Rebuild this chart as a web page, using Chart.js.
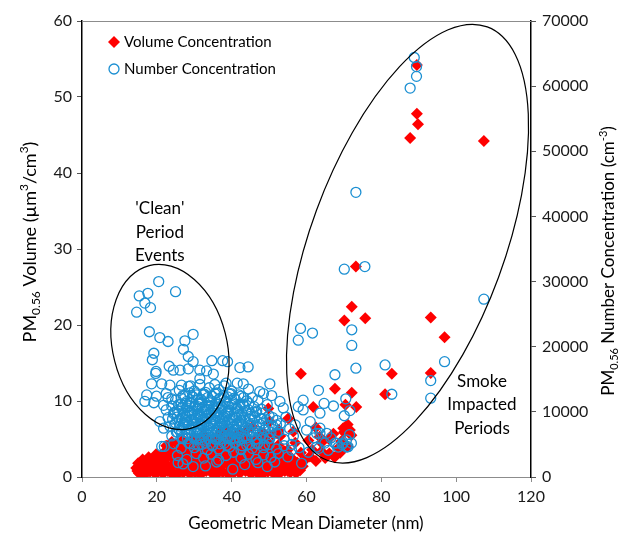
<!DOCTYPE html>
<html>
<head>
<meta charset="utf-8">
<script src="https://cdn.jsdelivr.net/npm/chart.js@4/dist/chart.umd.min.js"></script>
<style>
  body { margin: 0; background: #fff; }
  #wrap { width: 618px; height: 533px; }
</style>
</head>
<body>
<div id="wrap"><canvas id="chart" width="618" height="533"></canvas></div>
<script>
// PM0.56 volume (left axis) vs geometric mean diameter
var volDiam = [
    89.5, 89.5, 89.8, 87.7, 107.4, 73.2, 72.1, 70.1, 75.7, 93.2, 96.9, 93.2, 82.8, 81.0,
    58.5, 67.6, 72.1, 70.4, 73.3, 61.8, 69.8, 71.6, 67.2, 66.1, 60.9, 69.3, 71, 64, 62.5,
    65, 68.5, 72, 59, 56, 58.3, 49.8, 55.1, 52.6, 50.2, 51, 56.5, 45.5, 42, 38.5, 47,
    14.5, 15, 16, 16.5, 17.5, 18, 19, 19.5, 20.5, 21, 22, 22.5, 23.5, 23.5, 24.5, 25,
    25.5, 26, 27, 27, 27.5, 28, 28.5, 29, 29.5, 30, 30.5, 31, 31.5, 32, 32.5, 33, 33,
    33.5, 34, 34.5, 35, 35, 35.5, 36, 36.5, 37, 37.5, 38, 38, 38.5, 39, 39.5, 40, 40,
    40.5, 41, 41.5, 42, 42, 42.5, 43, 43.5, 44, 44.5, 45, 45, 45.5, 46, 46.5, 47, 47.5,
    48, 48.5, 49, 49.5, 50, 50.5, 51, 51.5, 52, 52.5, 53, 53.5, 54, 55, 55, 56, 57,
    57.5, 58.5, 59.5, 60.5, 61.5, 62.5, 63.5, 64, 66, 67.5, 69, 70, 71,
    15.2, 16.8, 18.2, 19.8, 21.3, 22.8, 24.2, 25.8, 27.3, 28.8, 30.2, 31.7, 33.2, 34.7,
    36.2, 37.7, 39.2, 40.7, 42.2, 43.7, 45.2, 46.7, 48.2, 49.7, 51.2, 52.7, 54.2, 55.7, 57.2,
    15.8, 17.2, 18.7, 20.2, 21.7, 23.2, 24.7, 26.2, 27.7, 29.2, 30.7, 32.2, 33.7, 35.2,
    36.7, 38.2, 39.7, 41.2, 42.7, 44.2, 45.7, 47.2, 48.7, 50.2, 51.7, 53.2, 54.7, 56.2,
    19.2, 20.7, 22.2, 23.7, 25.2, 26.7, 28.2, 29.7, 31.2, 32.7, 34.2, 35.7, 37.2, 38.7,
    40.2, 41.7, 43.2, 44.7, 46.2, 47.7, 49.2, 50.7, 52.2, 53.7, 55.2,
    24.2, 26.2, 28.2, 29.7, 31.2, 32.7, 34.2, 35.7, 37.2, 38.7, 40.2, 41.7, 43.2, 44.7,
    46.2, 47.7, 49.2, 50.7, 52.2, 54,
    29.2, 32.2, 35.2, 38.2, 41.2, 44.2, 47.2, 50,
    14.8, 16.2, 17.8, 19.8, 21.8, 18.9, 23,
    22.5, 24, 25.5, 27, 28.5, 30, 31.5, 33, 34.5, 36, 37.5, 39, 40.5, 42, 43.5, 45,
    46.5, 48, 49.5,
    32.5, 37, 41.5, 44, 48.5, 53
];
var volConc = [
    54.2, 47.8, 46.4, 44.6, 44.2, 27.7, 22.4, 20.6, 20.9, 21.0, 18.4, 13.7, 13.6, 10.9,
    13.6, 11.6, 11.1, 9.5, 9.2, 9.2, 6.4, 6.2, 5.7, 3.1, 2.7, 4.7, 4.0, 4.5, 6.5,
    2.5, 3.8, 5.5, 1.4, 1.4, 0.9, 9.0, 7.7, 6.2, 7.3, 5.6, 6.0, 6.6, 5.8, 6.2, 5.2,
    1.2, 1.8, 0.8, 1.5, 1.1, 2.0, 0.7, 1.6, 1.1, 2.2, 0.6, 1.7, 2.8, 1.0, 0.5, 2.1,
    3.3, 1.3, 0.6, 2.5, 4.4, 1.6, 3.3, 0.9, 2.2, 4.0, 1.3, 2.9, 0.6, 3.7, 1.9, 4.6, 0.9,
    2.6, 1.5, 3.5, 0.6, 5.0, 2.3, 4.1, 1.2, 3.0, 0.7, 1.9, 4.7, 3.6, 2.6, 0.9, 1.6, 5.3,
    3.2, 4.3, 2.2, 0.6, 1.3, 3.8, 2.8, 4.9, 1.7, 0.8, 3.3, 2.3, 4.4, 1.4, 3.0, 0.7, 2.1,
    3.9, 1.2, 2.7, 4.6, 1.8, 0.8, 3.4, 2.3, 1.4, 4.2, 0.9, 2.9, 1.8, 3.6, 0.8, 2.5, 4.5,
    1.9, 3.2, 2.2, 4.8, 3.6, 2.1, 5.3, 3.4, 5.0, 2.6, 3.2, 5.9, 6.9,
    0.5, 0.3, 0.7, 0.4, 0.6, 0.8, 0.3, 0.5, 0.7, 0.4, 0.6, 0.3, 0.8, 0.5,
    0.4, 0.7, 0.3, 0.6, 0.5, 0.8, 0.4, 0.6, 0.3, 0.7, 0.5, 0.4, 0.8, 0.6, 0.5,
    1.4, 1.7, 1.3, 1.8, 1.5, 1.2, 1.9, 1.4, 1.6, 1.3, 1.8, 1.5, 1.2, 1.7,
    1.4, 1.9, 1.3, 1.6, 1.5, 1.8, 1.2, 1.6, 1.4, 1.9, 1.3, 1.7, 1.5, 1.2,
    2.3, 2.6, 2.4, 2.9, 2.5, 2.8, 2.3, 2.7, 2.5, 2.9, 2.4, 2.6, 2.8, 2.3,
    2.7, 2.5, 2.9, 2.4, 2.6, 2.8, 2.3, 2.7, 2.5, 2.4, 2.6,
    3.4, 3.7, 3.5, 3.9, 3.3, 3.6, 3.8, 3.4, 3.7, 3.5, 3.9, 3.3, 3.6, 3.8,
    3.4, 3.5, 3.7, 3.3, 3.6, 3.4,
    4.5, 4.3, 4.8, 4.4, 4.6, 4.2, 4.7, 4.4,
    0.8, 2.3, 2.6, 3.0, 3.2, 1.0, 3.6,
    4.1, 4.6, 4.3, 4.9, 4.4, 5.1, 4.5, 4.8, 4.2, 5.0, 4.6, 4.3, 4.9, 4.5, 5.2, 4.7,
    4.4, 4.9, 4.6,
    5.6, 5.9, 5.7, 6.2, 5.8, 5.4
];

// PM0.56 number concentration (right axis) vs geometric mean diameter
var numDiam = [
    // smoke impacted
    88.8, 89.4, 89.4, 87.7, 73.2, 75.6, 70.1, 107.4, 72.1, 72.1, 61.6, 58.4, 57.8, 73.2,
    81, 96.9, 93.2, 93.2, 82.8, 67.6, 63.2, 70.5, 64.7, 67.2, 71.6, 63.6, 70.1, 59.1,
    59.1, 60, 63.6, 65.4, 62.7, 64.9, 65.8, 68, 69.5, 70.7, 70.7, 58.7, 61, 62, 66.5,
    68.5, 71.5, 60.5, 57, 56, 58, 72, 63.6, 62.7, 67.6, 69.7, 71.1, 63.3,
    // clean events
    20.5, 25, 15.3, 17.6, 16.8, 18.3, 14.6, 18, 20.8, 23, 29.7, 27.5, 27.1, 19.2, 18.8,
    28.4, 29.7, 34.7, 37.6, 38.9, 42.2, 44.4, 23.3, 24.4, 28.4, 19.7, 31.5, 33.3, 35.1,
    18.6, 21.3, 23.5, 26.6, 29, 31.5, 35.5, 38.5, 43.1, 17.3, 19.9, 22.5, 16.8, 19.2,
    21.8, 24, 20.8, 21.8, 21.3, 25.7, 29.7, 40.3, 19.8, 26.2,
    // main cluster
    26, 28.5, 30, 31.5, 33, 34, 36.5, 38, 40, 41.5, 44.5, 47.5, 50.2,
    23, 25, 27, 28, 29.5, 31, 32.5, 34.5, 35.5, 37, 38.5, 39.5, 41, 42.5, 44, 45.5, 47,
    50.7, 52.9, 48.5,
    22.5, 24, 25.5, 26.5, 28, 29, 30, 31, 32, 33, 34, 35, 36, 37.5, 39, 40, 41.5, 43,
    44.5, 46, 48, 49.5, 53.8, 57.8,
    23, 24.5, 26, 27, 28, 29, 30, 31, 32, 33, 34, 35, 36, 37, 38, 39, 40.5, 42, 43.5,
    45, 46.5, 48, 50, 52, 54.5,
    23.5, 25, 26, 27, 28, 29, 30, 31, 32, 33, 34, 35, 36, 37, 38, 39, 40, 41.5, 43,
    44.5, 46, 47.5, 49, 51, 53, 55.5,
    24, 25.5, 27, 28.5, 30, 31, 32, 33.5, 35, 36, 37.5, 39, 40.5, 42, 43.5, 45, 46.5,
    48, 50, 52, 54, 56.5,
    22, 24.5, 26.5, 28.5, 30, 32, 33.5, 35, 36.5, 38, 39.5, 41, 42.5, 44, 45.5, 47,
    48.5, 50, 52, 54, 56,
    25.5, 28, 30.5, 32.5, 34.5, 36.5, 38.5, 40.5, 42.5, 44.5, 46.5, 48.5, 50.5, 52.5, 55,
    27, 33, 36, 43.5, 47, 49.5, 51.5,
    // dense core
    26.5, 27.5, 28.8, 29.7, 30.6, 31.8, 32.7, 33.6, 34.8, 35.9, 36.7, 37.8, 38.9, 39.8,
    40.7, 41.9, 43.2,
    25.8, 26.9, 27.7, 28.6, 29.4, 30.3, 31.2, 32.1, 33.2, 34.1, 35.2, 36.3, 37.2, 38.1,
    39.2, 40.3, 41.1, 42.2, 43.3, 44.6,
    24.6, 25.9, 27.4, 28.5, 29.5, 30.6, 31.5, 32.6, 33.6, 34.5, 35.6, 36.6, 37.4, 38.6,
    39.6, 40.7, 41.7, 42.7, 43.8, 45.2, 46.7, 48.2,
    24.2, 25.4, 26.6, 27.6, 28.6, 29.6, 30.5, 31.6, 32.5, 33.5, 34.4, 35.5, 36.5, 37.5,
    38.5, 39.4, 40.3, 41.3, 42.4, 43.4, 44.8, 46.2, 47.8, 49.3, 51,
    24.8, 26.2, 27.5, 28.5, 29.5, 30.5, 31.5, 32.5, 33.5, 34.5, 35.5, 36.5, 37.5, 38.5,
    39.5, 40.6, 41.5, 42.6, 43.7, 45, 46.6, 48.3, 50, 52,
    25.2, 26.6, 27.9, 29, 30, 31, 32, 33, 34, 35, 36, 37, 38, 39, 40, 41, 42, 43, 44.3,
    45.7, 47.2, 48.7, 50.5, 52.6,
    26.8, 28.2, 29.5, 30.5, 31.6, 32.6, 33.7, 34.6, 35.6, 36.6, 37.7, 38.7, 39.7, 40.8,
    41.8, 42.9, 44, 45.3, 46.8, 48.4, 50.2,
    29, 31, 33, 34.8, 36.8, 38.8, 40.8, 42.8, 44.8, 46.8, 48.8
];
var numConc = [
    64400, 63000, 61500, 59700, 43700, 32300, 31900, 27300, 22600, 20200, 22100, 22800,
    21000, 16700, 17200, 17700, 14800, 12100, 12700, 15700, 13300, 12000, 11300, 10900,
    10200, 9800, 9400, 11800, 10300, 7200, 6700, 6700, 4600, 5200, 4100, 5200, 5000,
    5700, 4600, 2100, 8500, 6000, 6000, 4600, 6500, 3800, 8000, 5000, 4500, 5200, 7500,
    6700, 5200, 5200, 4650, 4400,
    30000, 28450, 27800, 28200, 26700, 26000, 25300, 22300, 21400, 20800, 21900, 20900,
    19600, 19000, 18000, 18500, 17700, 17850, 17850, 17700, 16800, 16900, 17000, 16400,
    16600, 15900, 16400, 16300, 15800, 14300, 14300, 14100, 14100, 14000, 15100, 14200,
    14400, 14300, 12600, 12400, 12800, 11600, 11400, 11000, 12000, 8500, 7500, 4700,
    2200, 1600, 1200, 16200, 16400,
    13300, 13900, 13200, 14200, 13000, 13700, 13400, 14000, 13200, 14400, 13500, 13100, 14300,
    12200, 11800, 12500, 11600, 12300, 11900, 12600, 11700, 12800, 12100, 11600, 12700,
    11900, 12400, 11700, 12200, 11800, 12500, 11600, 12800,
    10300, 10900, 10200, 11200, 10600, 11300, 10100, 10800, 11400, 10300, 10900, 10400,
    11200, 10600, 10100, 11000, 10500, 11200, 10300, 10800, 10400, 11100, 10600, 10800,
    9100, 9700, 8800, 9500, 8700, 9900, 9000, 9600, 8700, 9300, 9800, 8900, 9500, 8600,
    9200, 9800, 8800, 9500, 8700, 9300, 9900, 8900, 9400, 8700, 9200,
    7800, 8300, 7200, 7900, 8400, 7400, 8100, 7300, 7900, 8400, 7500, 8100, 7100, 7800,
    8300, 7400, 8000, 7200, 7900, 8300, 7500, 8100, 7300, 7800, 8200, 7400,
    6300, 6900, 5900, 6600, 6000, 6800, 5700, 6400, 6900, 5800, 6500, 6000, 6800, 5700,
    6300, 6900, 5900, 6500, 6000, 6700, 5800, 6300,
    4700, 5100, 4400, 5200, 4500, 5000, 4200, 4900, 4300, 5200, 4600, 5300, 4200, 4900,
    4400, 5200, 4500, 5000, 4300, 4800, 4100,
    3300, 2700, 3600, 2900, 3500, 2600, 3300, 3800, 2900, 3500, 2700, 3400, 3000, 3600, 3100,
    2000, 1700, 2300, 1900, 2200, 1600, 2300,
    12100, 12500, 12900, 12300, 12600, 11900, 12700, 12200, 12400, 12900, 12000, 12500,
    12300, 12800, 12100, 12600, 12200,
    11100, 10700, 11300, 10900, 11500, 10800, 11200, 10600, 11000, 11400, 10700, 11100,
    10900, 11500, 10800, 11200, 10600, 11100, 10900, 11300,
    9900, 10100, 9700, 10200, 9800, 10400, 9600, 10000, 10300, 9700, 10100, 9800, 10300,
    9900, 10200, 9600, 10000, 9800, 10200, 9700, 10100, 9800,
    8900, 9200, 9000, 8800, 9300, 8700, 9100, 9300, 8900, 9000, 9200, 8700, 9100, 8900,
    9300, 8800, 9100, 9000, 8700, 9200, 8900, 9100, 9000, 8800, 9100,
    8000, 7800, 8200, 7900, 8100, 7700, 8200, 7800, 8000, 7900, 8300, 7700, 8100, 7900,
    8200, 7800, 8000, 8100, 7700, 8000, 7900, 8200, 7800, 8000,
    6900, 7100, 6800, 7200, 6900, 7000, 7200, 6800, 7100, 6900, 7200, 6800, 7000, 7100,
    6900, 7200, 6800, 7000, 7100, 6900, 7000, 7200, 6800, 7000,
    6100, 5900, 6200, 5800, 6000, 6200, 5900, 6100, 5800, 6100, 5900, 6200, 5800, 6000,
    6100, 5900, 6000, 6200, 5800, 6100, 5900,
    5100, 4900, 5200, 4800, 5100, 4900, 5200, 4800, 5000, 5100, 4900
];

var xTicks = [0, 20, 40, 60, 80, 100, 120];
var volTicks = [0, 10, 20, 30, 40, 50, 60];
var numTicks = [0, 10000, 20000, 30000, 40000, 50000, 60000, 70000];

var RED = '#ff0000';
var BLUE = '#1b8fd2';
var FONT = 'Lato, "Open Sans", sans-serif';

function pairs(xs, ys) {
    return xs.map(function (x, i) {
        return { x: x, y: ys[i] };
    });
}

// text with sub/superscripts, centred at (cx, cy)
function drawRich(ctx, parts, cx, cy, angle, size) {
    var small = Math.round(size * 0.65);
    var widths = parts.map(function (p) {
        ctx.font = (p[1] ? small : size) + 'px ' + FONT;
        return ctx.measureText(p[0]).width;
    });
    var total = widths.reduce(function (a, b) { return a + b; }, 0);
    ctx.save();
    ctx.translate(cx, cy);
    ctx.rotate(angle);
    ctx.fillStyle = '#000';
    ctx.textBaseline = 'middle';
    ctx.textAlign = 'left';
    var x = -total / 2;
    parts.forEach(function (p, i) {
        ctx.font = (p[1] ? small : size) + 'px ' + FONT;
        var dy = p[1] === 1 ? size * 0.32 : (p[1] === 2 ? -size * 0.33 : 0);
        ctx.fillText(p[0], x, dy);
        x += widths[i];
    });
    ctx.restore();
}

var decorations = {
    id: 'decorations',
    afterDraw: function (chart) {
        var ctx = chart.ctx;
        var a = chart.chartArea;
        var sx = chart.scales.x, sy = chart.scales.y;

        // top border of plot area
        ctx.save();
        ctx.strokeStyle = '#8c8c8c';
        ctx.lineWidth = 1;
        ctx.beginPath();
        ctx.moveTo(a.left, a.top + 0.5);
        ctx.lineTo(a.right, a.top + 0.5);
        ctx.stroke();

        // ellipses
        ctx.strokeStyle = '#000';
        ctx.lineWidth = 1.2;
        ctx.beginPath();
        ctx.ellipse(sx.getPixelForValue(23.5), sy.getPixelForValue(17.1), 57, 84, -14.3 * Math.PI / 180, 0, 2 * Math.PI);
        ctx.stroke();
        ctx.beginPath();
        ctx.ellipse(sx.getPixelForValue(87.0), sy.getPixelForValue(30.7), 97, 231, 20.2 * Math.PI / 180, 0, 2 * Math.PI);
        ctx.stroke();

        // annotations
        ctx.fillStyle = '#000';
        ctx.font = '17px ' + FONT;
        ctx.textAlign = 'center';
        ctx.textBaseline = 'middle';
        ctx.fillText("'Clean'", sx.getPixelForValue(20.8), sy.getPixelForValue(35.3));
        ctx.fillText('Period', sx.getPixelForValue(20.8), sy.getPixelForValue(32.2));
        ctx.fillText('Events', sx.getPixelForValue(20.8), sy.getPixelForValue(29.1));
        ctx.fillText('Smoke', sx.getPixelForValue(106.9), sy.getPixelForValue(12.6));
        ctx.fillText('Impacted', sx.getPixelForValue(106.9), sy.getPixelForValue(9.5));
        ctx.fillText('Periods', sx.getPixelForValue(106.9), sy.getPixelForValue(6.4));

        // legend inside plot
        var lx = a.left + 32;
        ctx.fillStyle = RED;
        ctx.beginPath();
        ctx.moveTo(lx, 36);
        ctx.lineTo(lx + 6, 42);
        ctx.lineTo(lx, 48);
        ctx.lineTo(lx - 6, 42);
        ctx.closePath();
        ctx.fill();
        ctx.strokeStyle = BLUE;
        ctx.lineWidth = 1.3;
        ctx.beginPath();
        ctx.arc(lx, 69, 5, 0, 2 * Math.PI);
        ctx.stroke();
        ctx.fillStyle = '#000';
        ctx.font = '15px ' + FONT;
        ctx.textAlign = 'left';
        ctx.fillText('Volume Concentration', lx + 10, 42);
        ctx.fillText('Number Concentration', lx + 10, 69);
        ctx.restore();

        // axis titles
        drawRich(ctx, [['Geometric Mean Diameter (nm)', 0]], 306, 524, 0, 17);
        drawRich(ctx, [['PM', 0], ['0.56', 1], [' Volume (µm', 0], ['3', 2], ['/cm', 0], ['3', 2], [')', 0]],
            30, 242, -Math.PI / 2, 18);
        drawRich(ctx, [['PM', 0], ['0.56', 1], [' Number Concentration (cm', 0], ['-3', 2], [')', 0]],
            609, 261, -Math.PI / 2, 17);
    }
};

new Chart(document.getElementById('chart'), {
    type: 'scatter',
    data: {
        datasets: [
            {
                label: 'Number Concentration',
                data: pairs(numDiam, numConc),
                yAxisID: 'y2',
                pointStyle: 'circle',
                pointRadius: 5,
                backgroundColor: 'rgba(0,0,0,0)',
                borderColor: BLUE,
                borderWidth: 1.3,
                order: 1,
            },
            {
                label: 'Volume Concentration',
                data: pairs(volDiam, volConc),
                yAxisID: 'y',
                pointStyle: 'rectRot',
                pointRadius: 6,
                backgroundColor: RED,
                borderColor: RED,
                borderWidth: 0,
                order: 2,
            },
        ],
    },
    options: {
        responsive: false,
        animation: false,
        devicePixelRatio: 1,
        layout: { padding: { top: 21, left: 0, right: 0, bottom: 0 } },
        plugins: {
            legend: { display: false },
            tooltip: { enabled: false },
        },
        scales: {
            x: {
                type: 'linear',
                min: 0,
                max: 120,
                afterBuildTicks: function (s) {
                    s.ticks = xTicks.map(function (v) { return { value: v }; });
                },
                afterFit: function (s) { s.height = 56; },
                border: { color: '#8c8c8c', width: 1 },
                grid: { drawOnChartArea: false, tickLength: 5, color: '#8c8c8c' },
                ticks: { color: '#1a1a1a', padding: 5, font: { family: FONT, size: 16 } },
            },
            y: {
                position: 'left',
                min: 0,
                max: 60,
                afterBuildTicks: function (s) {
                    s.ticks = volTicks.map(function (v) { return { value: v }; });
                },
                afterFit: function (s) { s.width = 82; },
                border: { color: '#000', width: 1.5 },
                grid: { drawOnChartArea: false, tickLength: 5, color: '#555' },
                ticks: { color: '#1a1a1a', padding: 5, font: { family: FONT, size: 16 } },
            },
            y2: {
                position: 'right',
                min: 0,
                max: 70000,
                afterBuildTicks: function (s) {
                    s.ticks = numTicks.map(function (v) { return { value: v }; });
                },
                afterFit: function (s) { s.width = 87; },
                border: { color: '#000', width: 1.5 },
                grid: { drawOnChartArea: false, tickLength: 5, color: '#555' },
                ticks: {
                    color: '#1a1a1a',
                    padding: 6,
                    font: { family: FONT, size: 16 },
                    callback: function (v) { return String(v); },
                },
            },
        },
    },
    plugins: [decorations],
});
</script>
</body>
</html>
